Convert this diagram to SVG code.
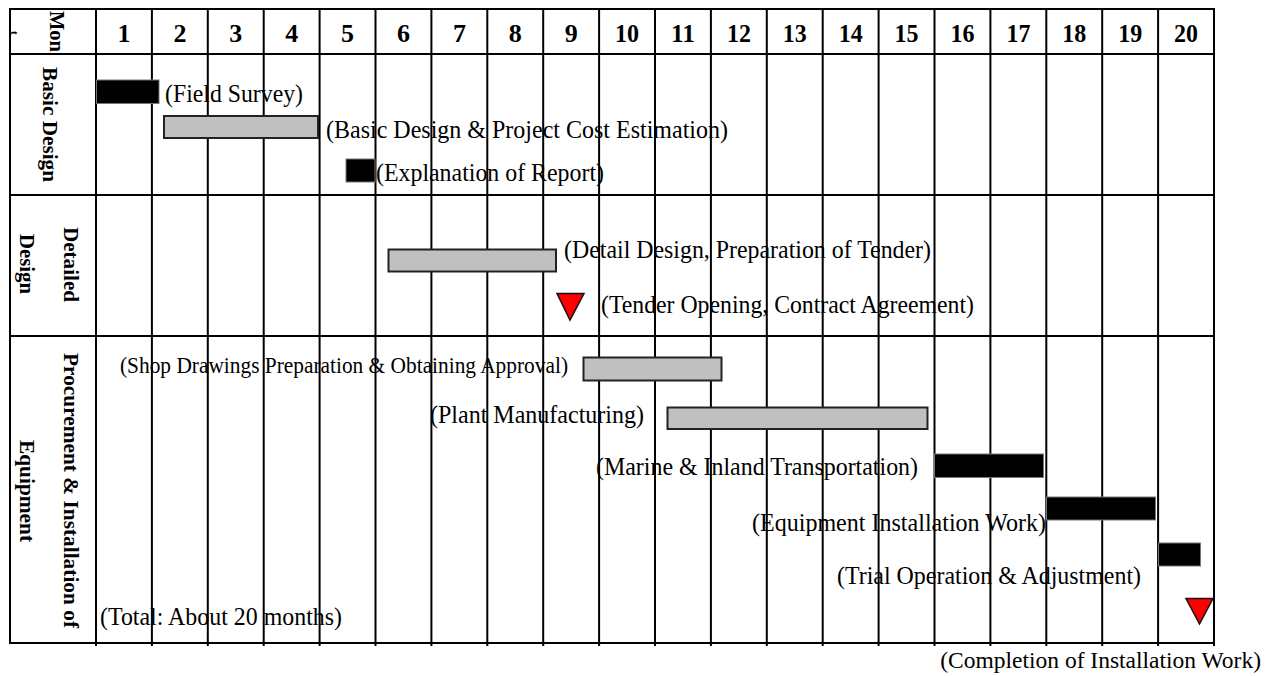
<svg xmlns="http://www.w3.org/2000/svg" width="1274" height="676" viewBox="0 0 1274 676">
<style>
.grid{stroke:#000;stroke-width:2;fill:none}
.hd{font-family:"Liberation Serif","Times New Roman",serif;font-weight:bold;font-size:26px;text-anchor:middle;fill:#000}
.rl{font-family:"Liberation Serif","Times New Roman",serif;font-weight:bold;font-size:21px;fill:#000}
.lb{font-family:"Liberation Serif","Times New Roman",serif;font-size:26px;fill:#000}
.bk{fill:#000;stroke:#777;stroke-width:1}
.gy{fill:#c0c0c0;stroke:#222;stroke-width:2}
.ms{fill:#ff0000;stroke:#111;stroke-width:1.5;stroke-linejoin:miter}
</style>
<rect width="1274" height="676" fill="#fff"/>
<g id="grid" class="grid">
<rect x="10" y="9" width="1204" height="634"/>
<line x1="10" y1="54" x2="1214" y2="54"/>
<line x1="10" y1="195" x2="1214" y2="195"/>
<line x1="10" y1="336" x2="1214" y2="336"/>
<path d="M96 9V646M151.9 9V646M207.8 9V646M263.7 9V646M319.6 9V646M375.5 9V646M431.4 9V646M487.3 9V646M543.2 9V646M599.1 9V646M655 9V646M710.9 9V646M766.8 9V646M822.7 9V646M878.6 9V646M934.5 9V646M990.4 9V646M1046.3 9V646M1102.2 9V646M1158.1 9V646M1214 9V646"/>
</g>
<g id="header">
<text class="rl" transform="translate(50,11) rotate(90)" textLength="41" lengthAdjust="spacingAndGlyphs">Mon</text>
<text class="rl" transform="translate(11,31) rotate(90)" style="font-size:11px">t</text>
<text class="hd" x="124" y="42">1</text>
<text class="hd" x="179.9" y="42">2</text>
<text class="hd" x="235.8" y="42">3</text>
<text class="hd" x="291.7" y="42">4</text>
<text class="hd" x="347.6" y="42">5</text>
<text class="hd" x="403.5" y="42">6</text>
<text class="hd" x="459.4" y="42">7</text>
<text class="hd" x="515.3" y="42">8</text>
<text class="hd" x="571.2" y="42">9</text>
<text class="hd" x="627.1" y="42" textLength="24" lengthAdjust="spacingAndGlyphs">10</text>
<text class="hd" x="683" y="42" textLength="24" lengthAdjust="spacingAndGlyphs">11</text>
<text class="hd" x="738.9" y="42" textLength="24" lengthAdjust="spacingAndGlyphs">12</text>
<text class="hd" x="794.8" y="42" textLength="24" lengthAdjust="spacingAndGlyphs">13</text>
<text class="hd" x="850.7" y="42" textLength="24" lengthAdjust="spacingAndGlyphs">14</text>
<text class="hd" x="906.6" y="42" textLength="24" lengthAdjust="spacingAndGlyphs">15</text>
<text class="hd" x="962.5" y="42" textLength="24" lengthAdjust="spacingAndGlyphs">16</text>
<text class="hd" x="1018.4" y="42" textLength="24" lengthAdjust="spacingAndGlyphs">17</text>
<text class="hd" x="1074.3" y="42" textLength="24" lengthAdjust="spacingAndGlyphs">18</text>
<text class="hd" x="1130.2" y="42" textLength="24" lengthAdjust="spacingAndGlyphs">19</text>
<text class="hd" x="1186.1" y="42" textLength="24" lengthAdjust="spacingAndGlyphs">20</text>
</g>
<g id="phase-basic">
<text class="rl" transform="translate(43,67) rotate(90)" textLength="115" lengthAdjust="spacingAndGlyphs">Basic Design</text>
</g>
<g id="phase-detailed">
<text class="rl" transform="translate(64,227) rotate(90)" textLength="75" lengthAdjust="spacingAndGlyphs">Detailed</text>
<text class="rl" transform="translate(20,234) rotate(90)" textLength="60" lengthAdjust="spacingAndGlyphs">Design</text>
</g>
<g id="phase-procurement">
<text class="rl" transform="translate(64,353) rotate(90)" textLength="275" lengthAdjust="spacingAndGlyphs">Procurement &amp; Installation of</text>
<text class="rl" transform="translate(20,440) rotate(90)" textLength="102" lengthAdjust="spacingAndGlyphs">Equipment</text>
</g>
<g id="task-field-survey">
<rect class="bk" x="96.5" y="80" width="62.5" height="23.5"/>
<text class="lb" x="165" y="102" textLength="138" lengthAdjust="spacingAndGlyphs">(Field Survey)</text>
</g>
<g id="task-basic-design">
<rect class="gy" x="164" y="116" width="154" height="22"/>
<text class="lb" x="326" y="138" textLength="402" lengthAdjust="spacingAndGlyphs">(Basic Design &amp; Project Cost Estimation)</text>
</g>
<g id="task-explanation">
<rect class="bk" x="346" y="159" width="29" height="23"/>
<text class="lb" x="376" y="181" textLength="228" lengthAdjust="spacingAndGlyphs">(Explanation of Report)</text>
</g>
<g id="task-detail-design">
<rect class="gy" x="388.5" y="249.5" width="167.5" height="22"/>
<text class="lb" x="564" y="258" textLength="367" lengthAdjust="spacingAndGlyphs">(Detail Design, Preparation of Tender)</text>
</g>
<g id="milestone-tender">
<polygon class="ms" points="557,293.5 584,293.5 570,320"/>
<text class="lb" x="601" y="313" textLength="373" lengthAdjust="spacingAndGlyphs">(Tender Opening, Contract Agreement)</text>
</g>
<g id="task-shop-drawings">
<rect class="gy" x="583.5" y="357.5" width="138" height="23"/>
<text class="lb" x="120" y="373" style="font-size:23px" textLength="448" lengthAdjust="spacingAndGlyphs">(Shop Drawings Preparation &amp; Obtaining Approval)</text>
</g>
<g id="task-plant-manufacturing">
<rect class="gy" x="667.5" y="407.5" width="260" height="21.5"/>
<text class="lb" x="430" y="423" textLength="214" lengthAdjust="spacingAndGlyphs">(Plant Manufacturing)</text>
</g>
<g id="task-transportation">
<rect class="bk" x="934.5" y="454" width="109" height="23.5"/>
<text class="lb" x="596" y="475" textLength="322" lengthAdjust="spacingAndGlyphs">(Marine &amp; Inland Transportation)</text>
</g>
<g id="task-installation">
<rect class="bk" x="1046.5" y="497" width="109" height="23"/>
<text class="lb" x="752" y="531" textLength="294" lengthAdjust="spacingAndGlyphs">(Equipment Installation Work)</text>
</g>
<g id="task-trial">
<rect class="bk" x="1158.5" y="543" width="42" height="23"/>
<text class="lb" x="837" y="584" textLength="304" lengthAdjust="spacingAndGlyphs">(Trial Operation &amp; Adjustment)</text>
</g>
<g id="milestone-completion">
<polygon class="ms" points="1186,598.5 1213,598.5 1199.5,624"/>
<text class="lb" x="1261" y="668" style="font-size:23.5px" text-anchor="end">(Completion of Installation Work)</text>
</g>
<g id="total-note">
<text class="lb" x="100" y="625" textLength="242" lengthAdjust="spacingAndGlyphs">(Total: About 20 months)</text>
</g>
<g id="connectors"></g>
</svg>
